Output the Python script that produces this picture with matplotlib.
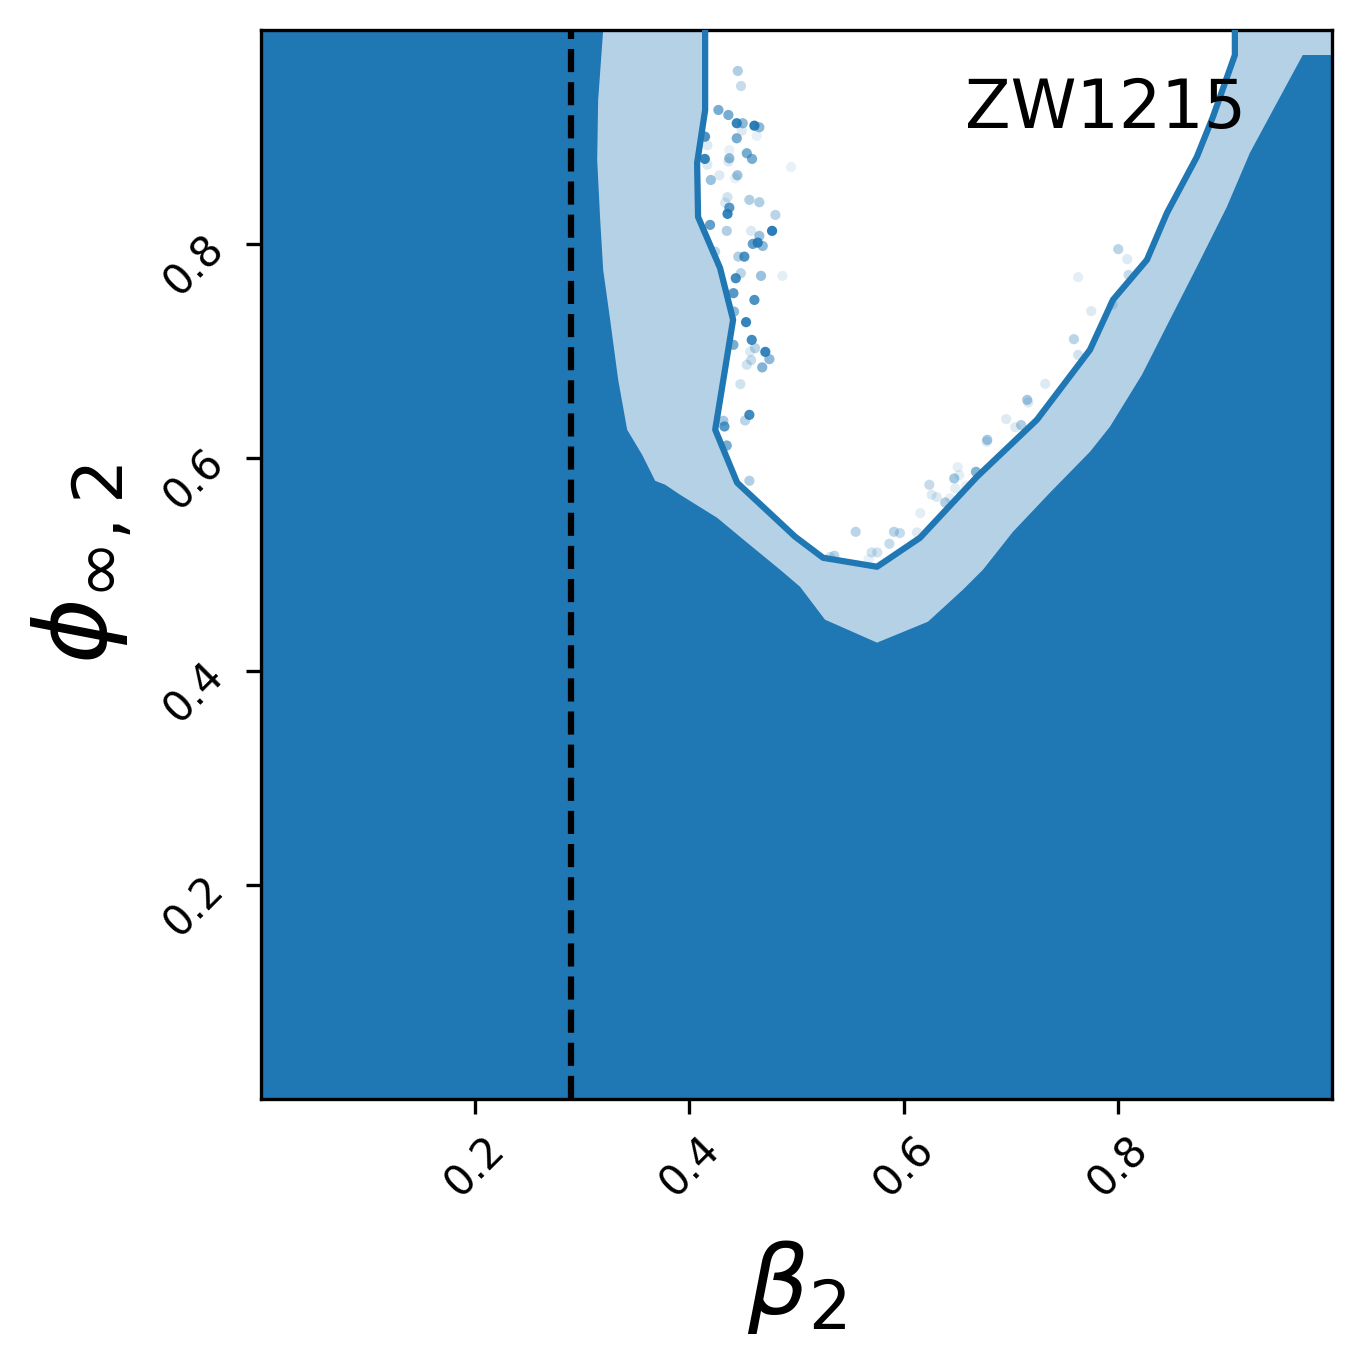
import matplotlib
matplotlib.use("Agg")
import matplotlib.pyplot as plt
from matplotlib.colors import to_rgba

# outer (light/dark) contour
outer_beta = [0.3195, 0.3148, 0.3139, 0.3167, 0.3195, 0.3260, 0.3335, 0.3419, 0.3559,
              0.3680, 0.3774, 0.3914, 0.4259, 0.4539, 0.4847, 0.5033, 0.5266, 0.5752,
              0.6228, 0.6554, 0.6741, 0.7021, 0.7366, 0.7740, 0.7926, 0.8225, 0.8486,
              0.8738, 0.9018, 0.9233, 0.9485, 0.9727, 1.0]
outer_phi = [1.0, 0.9346, 0.8785, 0.8224, 0.7756, 0.7289, 0.6728, 0.6260, 0.6026,
             0.5783, 0.5746, 0.5652, 0.5437, 0.5204, 0.4951, 0.4792, 0.4484, 0.4269,
             0.4465, 0.4764, 0.4951, 0.5306, 0.5671, 0.6054, 0.6288, 0.6774, 0.7289,
             0.7784, 0.8345, 0.8850, 0.9318, 0.9766, 0.9766]

# inner contour (edge of the white region, drawn as a line)
inner_beta = [0.4147, 0.4147, 0.4072, 0.4081, 0.4286, 0.4408, 0.4241, 0.4446, 0.4987,
              0.5248, 0.5752, 0.6153, 0.6685, 0.7245, 0.7740, 0.7955, 0.8272, 0.8459,
              0.8738, 0.8888, 0.9093, 0.9093]
inner_phi = [1.0, 0.9252, 0.8756, 0.8251, 0.7774, 0.7289, 0.6261, 0.5765, 0.5260,
             0.5063, 0.4979, 0.5250, 0.5821, 0.6354, 0.7008, 0.7476, 0.7850, 0.8289,
             0.8813, 0.9187, 0.9766, 1.0]

# samples outside the contours
pts_beta = [0.4452, 0.4482, 0.4271, 0.4364, 0.4442, 0.4498, 0.4607, 0.4653, 0.4489, 0.4629,
            0.4442, 0.4146, 0.4168, 0.4373, 0.4536, 0.4585, 0.4373, 0.4364, 0.4144, 0.4168,
            0.4949, 0.4200, 0.4280, 0.4448, 0.4426, 0.4355, 0.4333, 0.4560, 0.4653, 0.4373,
            0.4356, 0.4803, 0.4193, 0.4349, 0.4576, 0.4653, 0.4772, 0.4592, 0.4638, 0.4685,
            0.4457, 0.4513, 0.4240, 0.4480, 0.4433, 0.4669, 0.4868, 0.4411, 0.4607, 0.4417,
            0.4529, 0.4582, 0.4411, 0.4567, 0.4613, 0.4709, 0.4747, 0.4576, 0.4536, 0.4680,
            0.4476, 0.4560, 0.4520, 0.4317, 0.4327, 0.4349, 0.4560, 0.6240, 0.6262, 0.6309,
            0.6389, 0.6156, 0.5553, 0.5910, 0.5966, 0.6125, 0.5867, 0.5702, 0.5754, 0.5353,
            0.5313, 0.5674, 0.7322, 0.7154, 0.7164, 0.6958, 0.7043, 0.7098, 0.6781, 0.6776,
            0.6505, 0.6473, 0.6520, 0.6676, 0.6482, 0.6433, 0.6582, 0.8004, 0.8088, 0.8101,
            0.7630, 0.7752, 0.7951, 0.7590, 0.7630]
pts_phi = [0.9617, 0.9476, 0.9252, 0.9205, 0.9128, 0.9128, 0.9105, 0.9090, 0.9058, 0.9009,
           0.8987, 0.9002, 0.8922, 0.8878, 0.8847, 0.8794, 0.8800, 0.8769, 0.8794, 0.8740,
           0.8719, 0.8597, 0.8641, 0.8641, 0.8613, 0.8436, 0.8385, 0.8411, 0.8389, 0.8338,
           0.8280, 0.8270, 0.8177, 0.8121, 0.8121, 0.8074, 0.8121, 0.7999, 0.8011, 0.7980,
           0.7880, 0.7880, 0.7927, 0.7725, 0.7678, 0.7700, 0.7700, 0.7538, 0.7475, 0.7366,
           0.7267, 0.7101, 0.7055, 0.6992, 0.7024, 0.6989, 0.6921, 0.6912, 0.6868, 0.6844,
           0.6687, 0.6400, 0.6347, 0.6344, 0.6291, 0.6113, 0.5783, 0.5746, 0.5652, 0.5631,
           0.5580, 0.5481, 0.5306, 0.5306, 0.5294, 0.5300, 0.5194, 0.5113, 0.5113, 0.5082,
           0.5070, 0.5051, 0.6690, 0.6540, 0.6515, 0.6360, 0.6285, 0.6304, 0.6166, 0.6148,
           0.5911, 0.5805, 0.5836, 0.5867, 0.5711, 0.5618, 0.5736, 0.7950, 0.7856, 0.7709,
           0.7688, 0.7370, 0.7432, 0.7108, 0.6961]
pts_alpha = [0.35, 0.25, 0.6, 0.6, 0.9, 0.5, 0.95, 0.5, 0.15, 0.1,
             0.6, 0.8, 0.15, 0.1, 0.6, 0.6, 0.5, 0.15, 0.9, 0.15,
             0.1, 0.45, 0.15, 0.45, 0.1, 0.2, 0.15, 0.35, 0.35, 0.75,
             0.9, 0.3, 0.7, 0.35, 0.15, 0.45, 0.95, 0.7, 0.9, 0.5,
             0.35, 0.8, 0.3, 0.3, 0.85, 0.45, 0.12, 0.75, 0.8, 0.5,
             0.9, 0.85, 0.6, 0.15, 0.3, 0.9, 0.5, 0.25, 0.2, 0.55,
             0.2, 0.85, 0.3, 0.4, 0.75, 0.6, 0.35, 0.25, 0.15, 0.15,
             0.35, 0.12, 0.3, 0.3, 0.25, 0.15, 0.25, 0.2, 0.2, 0.3,
             0.2, 0.1, 0.15, 0.4, 0.15, 0.15, 0.15, 0.35, 0.4, 0.15,
             0.12, 0.4, 0.12, 0.55, 0.12, 0.12, 0.1, 0.3, 0.15, 0.25,
             0.12, 0.15, 0.2, 0.3, 0.2]

beta_ref = 0.289
label = "ZW1215"

dark = "#1f77b4"
light = "#b4d1e6"

fig = plt.figure(figsize=(1362 / 300, 1361 / 300), dpi=300)
ax = fig.add_axes([261 / 1362, 1 - 1099 / 1361, 1071 / 1362, 1069 / 1361])

ax.fill_between([0, 1], 0, 1, color=dark, lw=0, zorder=0)
ax.fill(outer_beta + [1.0], outer_phi + [1.0], color=light, lw=0, zorder=1)
ax.fill(inner_beta, inner_phi, color="white", lw=0, zorder=2)

cols = [to_rgba(dark, a) for a in pts_alpha]
ax.scatter(pts_beta, pts_phi, s=6, c=cols, linewidths=0, zorder=3)

ax.plot(inner_beta, inner_phi, color=dark, lw=1.5, zorder=4, solid_capstyle="butt")
ax.axvline(beta_ref, color="k", ls="--", lw=1.5, zorder=5)

ax.text(0.92, 0.957, label, transform=ax.transAxes, ha="right", va="top",
        fontsize=16, zorder=6)

ax.set_xlim(0, 1)
ax.set_ylim(0, 1)
ax.set_xticks([0.2, 0.4, 0.6, 0.8])
ax.set_yticks([0.2, 0.4, 0.6, 0.8])
ax.set_xticklabels(["0.2", "0.4", "0.6", "0.8"], rotation=45, fontsize=10)
ax.set_yticklabels(["0.2", "0.4", "0.6", "0.8"], rotation=45, fontsize=10)
ax.set_xlabel(r"$\beta_2$", fontsize=23, labelpad=8)
ax.set_ylabel(r"$\phi_{\infty,2}$", fontsize=24, labelpad=5)

fig.savefig("out.png", dpi=300)
